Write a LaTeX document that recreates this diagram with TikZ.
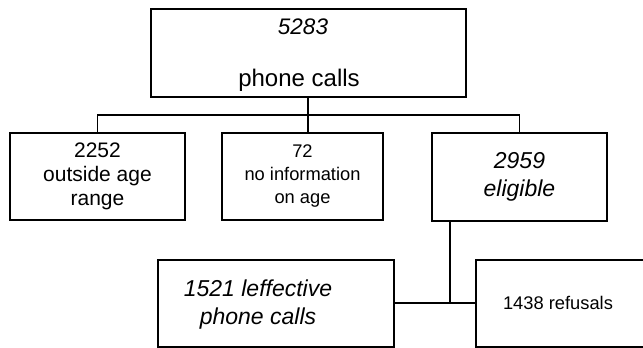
\documentclass[tikz,border=0pt]{standalone}
\usepackage{fontspec}
\setmainfont{Liberation Sans}
\begin{document}
\begin{tikzpicture}[x=1pt,y=-1pt,
  box/.style={draw=black,line width=1.4pt,rectangle,inner sep=0pt,outer sep=0pt},
  conn/.style={draw=black,line width=1.4pt},
  txt/.style={align=center,inner sep=0pt}]
\useasboundingbox (0,0) rectangle (643,348);
\clip (0,0) rectangle (643,348);
% boxes
\node[box,minimum width=315pt,minimum height=88pt] (top) at (308.5,53) {};
\node[txt,font=\fontsize{22.5}{26}\selectfont\itshape] (topnum) at (303,27) {5283};
\node[txt,font=\fontsize{24}{26}\selectfont] (toplab) at (299,80) {phone calls};
\node[box,minimum width=175pt,minimum height=87pt,txt,font=\fontsize{21}{24}\selectfont] (left) at (97.5,176.5) {2252\\outside age\\range};
\node[box,minimum width=161pt,minimum height=87pt,txt,font=\fontsize{18.3}{23}\selectfont] (mid) at (302.5,176.5) {72\\no information\\on age};
\node[box,minimum width=175pt,minimum height=88pt,txt,font=\fontsize{23}{28}\selectfont\itshape] (elig) at (519.5,177) {2959\\eligible};
\node[box,minimum width=236pt,minimum height=87pt] (eff) at (276,303.5) {};
\node[txt,font=\fontsize{23}{28}\selectfont\itshape] (efftxt) at (258,305) {1521 leffective\\phone calls};
\node[box,minimum width=176pt,minimum height=87pt] (ref) at (564,303.5) {};
\node[txt,font=\fontsize{18.3}{22}\selectfont] (reftxt) at (558,303) {1438 refusals};
% connectors
\coordinate (bus) at (308,115);
\draw[conn] (top.south -| bus) -- (bus);
\draw[conn] (left.north) |- (bus);
\draw[conn] (mid.north -| bus) -- (bus);
\draw[conn] (bus) -| (elig.north);
\coordinate (jn) at (450,303);
\draw[conn] (elig.south -| jn) -- (jn);
\draw[conn] (eff.east |- jn) -- (ref.west |- jn);
\end{tikzpicture}
\end{document}
